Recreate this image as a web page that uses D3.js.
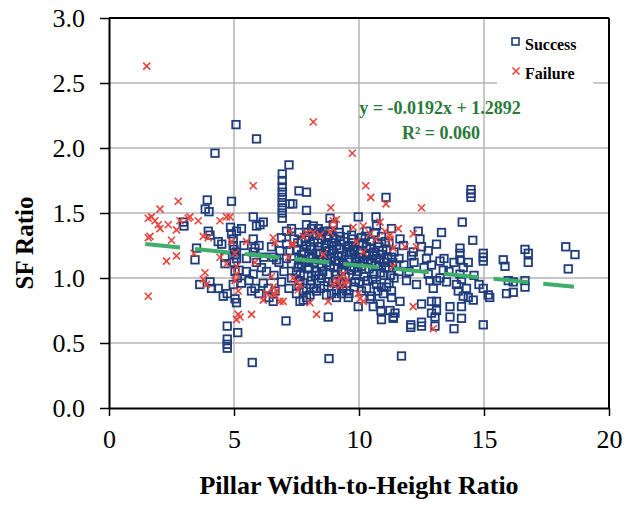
<!DOCTYPE html>
<html>
<head>
<meta charset="utf-8">
<script src="https://cdn.jsdelivr.net/npm/d3@7"></script>
<style>
  body { margin: 0; background: #fff; }
  svg text { font-family: 'Liberation Serif', 'Times New Roman', Times, 'DejaVu Serif', serif; }
</style>
</head>
<body>
<div id="chart"></div>
<script>
// tick values
var xTicks = [0, 5, 10, 15, 20];
var yTicks = [0, 0.5, 1.0, 1.5, 2.0, 2.5, 3.0];

// linear fit shown on the chart
var fitSlope = -0.0192, fitIntercept = 1.2892;
var fitRange = [1.45, 18.6];

// Success pillars [w/h, SF ratio]
var successPts = [
  [5.08,2.18],[5.9,2.07],[4.24,1.96],[7.2,1.87],
  [6.93,1.80],[6.93,1.75],[6.93,1.70],[6.93,1.66],[6.93,1.62],[6.93,1.58],[6.93,1.54],[6.93,1.50],[6.93,1.46],
  [7.6,1.67],[7.9,1.66],[7.24,1.57],[7.35,1.57],[7.9,1.52],[3.93,1.6],[4.9,1.59],
  [11.08,1.62],[14.48,1.68],[14.48,1.65],[14.48,1.62],[3.85,1.53],[4.0,1.51],
  [9.97,1.47],[10.68,1.47],[14.13,1.43],[10.7,1.40],[11.3,1.38],[14.55,1.29],
  [18.27,1.24],[18.64,1.18],[18.37,1.07],[16.64,1.22],[16.77,1.19],[16.77,1.12],
  [15.77,1.14],[15.84,1.09],[14.97,1.19],[14.97,1.16],[14.97,1.13],
  [15.97,0.98],[16.17,0.97],[16.64,0.98],[16.64,0.93],[15.9,0.88],[16.17,0.89],
  [14.97,0.64],[14.97,0.92],[15.17,0.87],[15.23,0.85],
  [4.73,0.63],[4.73,0.53],[4.73,0.49],[4.73,0.46],[5.15,0.58],[5.73,0.35],[8.8,0.38],[11.7,0.40],
  [7.08,0.67],[8.77,0.70],[9.97,0.78],[10.9,0.68],[11.37,0.70],[11.64,0.82],
  [12.07,0.64],[12.07,0.62],[12.5,0.66],[12.5,0.63],[13.04,0.63],[13.8,0.61],
  [13.64,0.78],[13.64,0.70],[14.1,0.78],[14.1,0.69],[12.9,0.82],[12.9,0.73],[12.5,0.80],[10.88,0.75],
  [2.97,1.43],[3.0,1.40],[3.44,1.14],[3.5,1.23],
  [3.63,0.95],[4.04,0.97],[4.1,0.92],[4.37,0.92],[4.57,0.86],[4.73,0.88],[5.04,0.84],[5.1,0.81],
  [3.97,1.36],[4.04,1.33],[4.37,1.28],[4.51,1.26],[4.64,1.16],[4.64,1.11],
  [4.86,1.39],[4.9,1.34],[4.97,1.30],[5.1,1.36],[5.3,1.38],
  [5.1,1.20],[5.1,1.15],[5.13,1.0],[4.97,0.95],[4.97,1.25],[5.04,1.18],[5.04,1.05],
  [5.77,1.47],[5.9,1.40],[6.04,1.41],[6.17,1.43],
  [5.77,1.30],[5.84,1.23],[5.77,1.20],[5.9,1.12],
  [5.5,1.05],[5.77,1.03],[5.7,0.90],[5.84,0.92],
  [6.1,1.08],[6.17,0.96],[6.37,0.92],[6.57,0.82],[6.64,0.90],
  [6.57,1.16],[6.7,1.14],[6.84,1.21],[6.9,1.31],
  [7.1,1.26],[7.1,1.36],[7.3,1.38],[7.24,1.21],
  [7.3,1.11],[7.57,1.08],[7.64,0.98],[7.64,0.82],[7.77,0.90],
  [7.9,1.41],[7.97,1.35],[8.17,1.40],[8.37,1.38],[8.44,1.35],
  [8.84,1.46],[8.97,1.41],[8.84,1.36],
  [11.3,0.85],[11.3,0.90],[11.1,0.93],[10.97,0.88],
  [11.64,1.30],[11.77,1.25],[12.1,1.17],[12.17,1.20],[12.44,1.30],[12.5,1.24],
  [12.37,1.36],[13.3,1.35],[13.1,1.26],[12.77,1.21],[13.24,1.13],[13.37,1.06],
  [12.77,1.03],[12.84,0.98],[12.97,0.92],[13.24,1.00],[13.5,0.97],
  [14.04,1.23],[14.04,1.19],[14.04,1.14],[14.17,1.08],[14.37,1.12],
  [14.04,1.03],[14.1,0.99],[13.97,0.90],[14.17,0.86],[14.37,0.85],[14.57,0.83],
  [13.04,0.70],[11.24,0.75],[11.44,0.73],[11.37,0.69],
  [10.44,0.84],[10.57,0.78],[10.84,0.80],[9.57,0.85],[9.5,0.90],[9.3,0.88],[9.1,0.85],
  [8.04,0.87],[7.77,0.83],[13.1,0.82],[13.1,0.75],
  [7.4,1.30],[7.5,1.22],[7.5,1.05],[7.6,1.15],[7.6,0.95],[7.7,1.28],[7.7,1.10],[7.8,1.20],[7.8,1.02],
  [7.9,1.25],[7.9,0.92],[8.0,1.17],[8.0,1.08],[8.0,1.32],[8.1,1.22],[8.1,0.98],[8.2,1.12],[8.2,1.28],
  [8.3,1.05],[8.3,1.19],[8.3,0.90],[8.4,1.24],[8.4,1.14],[8.5,1.00],[8.5,1.30],[8.5,1.09],[8.6,1.18],
  [8.6,0.94],[8.7,1.26],[8.7,1.12],[8.8,1.03],[8.8,1.21],[8.9,1.15],[8.9,0.88],[9.0,1.30],[9.0,1.08],
  [9.0,1.19],[9.1,1.25],[9.1,0.99],[9.2,1.13],[9.2,1.22],[9.3,1.05],[9.3,1.17],[9.4,1.28],[9.4,1.10],
  [9.5,1.20],[9.5,0.96],[9.6,1.14],[9.6,1.25],[9.7,1.06],[9.7,1.18],[9.8,0.93],[9.8,1.22],[9.9,1.12],
  [9.9,1.02],[10.0,1.26],[10.0,1.16],[10.0,0.97],[10.1,1.09],[10.1,1.21],[10.2,1.13],[10.2,1.01],
  [10.3,1.24],[10.3,0.92],[10.4,1.17],[10.4,1.07],[10.5,1.28],[10.5,1.12],[10.6,1.03],[10.6,1.20],
  [10.7,1.15],[10.7,0.95],[10.8,1.09],[10.8,1.24],[10.9,1.18],[11.0,1.12],[11.0,1.02],[11.1,1.22],
  [11.2,1.08],[11.3,1.16],[11.4,1.00],[11.5,1.10],
  [8.1,1.38],[8.6,1.36],[9.2,1.35],[9.7,1.33],[10.3,1.36],[10.9,1.32],[7.6,1.35],[8.8,1.33],[9.5,1.37],[10.1,1.31],
  [8.2,0.92],[8.7,0.87],[9.1,0.90],[9.6,0.88],[10.1,0.90],[10.5,0.86],[10.9,0.93],[11.2,0.96],[7.5,0.88],[7.9,0.85],
  [7.7,1.18],[8.4,1.02],[8.9,1.27],[9.3,0.97],[9.8,1.08],[10.4,1.19],[10.8,1.14],[11.2,1.27],[11.4,1.20],
  [11.6,1.15],[11.6,1.05],[11.8,1.10],[11.9,0.98],[12.0,1.05],[12.2,1.12],[12.3,0.95],[12.6,1.08],
  [12.7,1.15],[12.9,1.10],[13.1,0.98],[13.4,1.15],[13.6,1.05],[13.8,1.12],[13.9,0.95],[14.3,0.92],
  [14.6,1.02],[14.8,0.95],
  [5.0,1.22],[5.0,1.12],[5.2,1.06],[5.3,0.96],[5.4,1.25],[5.5,1.15],[5.6,0.98],[6.0,1.25],[6.2,1.16],
  [6.3,1.05],[6.5,1.24],[6.6,1.02],[6.8,1.12],[6.9,0.97],[7.0,1.05],[7.1,1.15],[7.2,0.92],[7.3,1.00],
  [6.0,0.88],[6.4,0.85],
  // extra marks in the dense core
  [7.55,1.27],[7.65,1.03],[7.75,1.14],[7.85,1.31],[7.95,1.07],[8.05,1.24],[8.15,1.15],[8.25,1.02],
  [8.35,1.27],[8.45,1.19],[8.55,1.05],[8.65,1.23],[8.75,0.97],[8.85,1.10],[8.95,1.22],[9.05,1.03],
  [9.15,1.17],[9.25,1.29],[9.35,1.12],[9.45,1.01],[9.55,1.24],[9.65,1.09],[9.75,1.27],[9.85,1.15],
  [9.95,1.05],[10.05,1.19],[10.15,1.27],[10.25,1.07],[10.35,1.14],[10.45,1.23],[10.55,0.99],[10.65,1.10],
  [10.75,1.27],[10.85,1.04],[10.95,1.21],[11.05,1.08],[11.15,1.15],[11.25,1.02],[8.05,0.95],[8.45,0.92],
  [8.95,0.97],[9.35,0.92],[9.85,0.97],[10.35,0.98],[10.75,0.90],[8.25,1.34],[8.75,1.31],[9.25,1.32],
  [9.75,1.30],[10.25,1.32],[10.65,1.35],[11.05,1.28],[7.85,1.12],[8.55,1.14],[9.15,1.08],[9.65,1.20],
  [10.15,1.12],[10.55,1.17],[11.35,1.12],[9.05,1.13]
];

// Failed pillars [w/h, SF ratio]
var failurePts = [
  [1.51,2.63],[8.17,2.20],[9.73,1.96],[5.77,1.71],[10.27,1.71],[10.47,1.62],[11.08,1.57],
  [12.5,1.54],[8.87,1.54],[2.77,1.59],[2.04,1.53],
  [1.57,1.46],[1.7,1.47],[1.84,1.44],[1.97,1.41],[2.04,1.38],[1.64,1.32],[1.57,1.31],
  [2.37,1.41],[2.5,1.29],[2.7,1.37],[2.3,1.13],[2.7,1.17],
  [2.84,1.44],[3.17,1.46],[3.57,1.44],[3.24,1.47],[1.57,0.86],[3.4,1.19],
  [3.77,1.32],[3.97,1.31],[3.84,1.04],[3.9,0.95],[3.77,0.99],
  [4.84,1.47],[4.9,1.28],[5.04,1.19],[5.1,1.09],[5.1,1.03],[5.04,0.98],[5.17,0.90],
  [5.17,0.72],[5.1,0.68],[5.24,0.70],[5.7,0.72],[4.44,1.16],[4.7,1.11],[5.5,1.28],[5.84,1.12],
  [6.17,0.83],[6.3,0.88],[6.57,0.88],[6.64,0.87],[6.84,0.82],[6.97,0.82],[6.7,0.90],
  [6.57,1.31],[6.64,1.27],[7.3,1.26],[7.17,1.16],
  [7.37,1.00],[7.5,0.97],[7.64,0.95],[7.57,0.91],
  [7.9,1.35],[8.17,1.35],[8.44,1.33],[8.84,1.35],[8.97,1.38],[9.1,1.45],[8.97,1.44],
  [8.3,0.72],[8.04,0.81],[8.77,0.82],
  [8.97,0.95],[9.1,0.98],[9.24,1.00],[9.37,1.03],[9.44,0.95],[9.5,0.98],[9.24,0.94],[8.57,1.18],
  [9.77,1.39],[10.17,1.40],[10.44,1.34],[9.9,1.28],[10.17,1.20],
  [10.04,0.84],[10.17,0.82],[9.97,0.88],
  [10.84,1.43],[11.04,1.36],[11.24,1.33],[11.57,1.38],[11.37,1.23],
  [11.37,1.09],[12.17,0.78],[12.17,1.34],[12.3,1.24],[11.84,1.24],[12.97,0.61],
  [11.24,1.30],[10.68,1.30],[7.24,1.36],[7.37,1.26],[7.77,1.32],[6.57,0.93],[6.5,1.01],
  [4.44,1.44],[4.7,1.47]
];

var W = 625, H = 505;
var margin = {top: 18, right: 16, bottom: 97, left: 109},
    width = W - margin.left - margin.right,
    height = H - margin.top - margin.bottom;

var serif = "'Liberation Serif', 'Times New Roman', Times, 'DejaVu Serif', serif";

var svg = d3.select('#chart')
  .append('svg')
    .attr('width', W)
    .attr('height', H)
    .attr('font-family', serif)
  .append('g')
    .attr('transform', 'translate(' + margin.left + ',' + margin.top + ')');

var x = d3.scaleLinear().domain([0, 20]).range([0, width]);
var y = d3.scaleLinear().domain([0, 3]).range([height, 0]);

// grid
svg.append('g').selectAll('line')
  .data(xTicks.slice(1, -1)).enter()
  .append('line')
    .attr('x1', d => x(d)).attr('x2', d => x(d))
    .attr('y1', 0).attr('y2', height)
    .attr('stroke', '#b4b4b4').attr('stroke-width', 1.5);
svg.append('g').selectAll('line')
  .data(yTicks.slice(1, -1)).enter()
  .append('line')
    .attr('x1', 0).attr('x2', width)
    .attr('y1', d => y(d)).attr('y2', d => y(d))
    .attr('stroke', '#b4b4b4').attr('stroke-width', 1.5);

// axes
var xAxis = svg.append('g')
  .attr('transform', 'translate(0,' + height + ')')
  .call(d3.axisBottom(x).tickValues(xTicks).tickSize(8).tickSizeOuter(0).tickPadding(14));
var yAxis = svg.append('g')
  .call(d3.axisLeft(y).tickValues(yTicks).tickFormat(d3.format('.1f')).tickSize(9).tickSizeOuter(0).tickPadding(15));
[xAxis, yAxis].forEach(function(a) {
  a.attr('font-family', serif).attr('font-size', 26);
  a.select('.domain').attr('stroke', '#000').attr('stroke-width', 2);
  a.selectAll('.tick line').attr('stroke', '#000').attr('stroke-width', 1.5);
  a.selectAll('.tick text').style('font-family', serif).attr('fill', '#000');
});

// frame top / right
svg.append('line').attr('x1', 0).attr('x2', width).attr('y1', 0).attr('y2', 0)
  .attr('stroke', '#000').attr('stroke-width', 2);
svg.append('line').attr('x1', width).attr('x2', width).attr('y1', 0).attr('y2', height)
  .attr('stroke', '#000').attr('stroke-width', 2);

// success squares
var s = 7.5;
svg.append('g').selectAll('rect')
  .data(successPts).enter()
  .append('rect')
    .attr('x', d => x(d[0]) - s / 2)
    .attr('y', d => y(d[1]) - s / 2)
    .attr('width', s).attr('height', s)
    .attr('fill', 'none')
    .attr('stroke', '#1f3c7c')
    .attr('stroke-width', 1.8);

// failure crosses
var c = 3.5;
svg.append('g').selectAll('path')
  .data(failurePts).enter()
  .append('path')
    .attr('transform', d => 'translate(' + x(d[0]) + ',' + y(d[1]) + ')')
    .attr('d', 'M' + -c + ',' + -c + 'L' + c + ',' + c + 'M' + -c + ',' + c + 'L' + c + ',' + -c)
    .attr('stroke', '#e8443c')
    .attr('stroke-width', 1.6);

// trend line
svg.append('line')
  .attr('x1', x(fitRange[0])).attr('y1', y(fitIntercept + fitSlope * fitRange[0]))
  .attr('x2', x(fitRange[1])).attr('y2', y(fitIntercept + fitSlope * fitRange[1]))
  .attr('stroke', '#3fae6a')
  .attr('stroke-width', 4)
  .attr('stroke-dasharray', '35,15');

// fit label
svg.append('text')
  .attr('x', 331).attr('y', 96)
  .attr('text-anchor', 'middle')
  .style('font-family', serif)
  .attr('font-weight', 'bold').attr('font-size', 18)
  .attr('fill', '#2a7a3a')
  .text('y = -0.0192x + 1.2892');
svg.append('text')
  .attr('x', 332).attr('y', 121)
  .attr('text-anchor', 'middle')
  .style('font-family', serif)
  .attr('font-weight', 'bold').attr('font-size', 18)
  .attr('fill', '#2a7a3a')
  .text('R² = 0.060');

// legend
var lg = svg.append('g').attr('transform', 'translate(388,2)');
lg.append('rect').attr('x', 0).attr('y', 0).attr('width', 96).attr('height', 64).attr('fill', '#fff');
lg.append('rect').attr('x', 15).attr('y', 18).attr('width', 7).attr('height', 7)
  .attr('fill', 'none').attr('stroke', '#1f3c7c').attr('stroke-width', 1.6);
lg.append('path')
  .attr('d', 'M15.5,47.5L22.5,54.5M15.5,54.5L22.5,47.5')
  .attr('stroke', '#e8443c').attr('stroke-width', 1.6);
lg.append('text').attr('x', 28).attr('y', 30).style('font-family', serif)
  .attr('font-weight', 'bold').attr('font-size', 16).text('Success');
lg.append('text').attr('x', 28).attr('y', 59).style('font-family', serif)
  .attr('font-weight', 'bold').attr('font-size', 16).text('Failure');

// axis titles
svg.append('text')
  .attr('x', width / 2).attr('y', height + 86)
  .attr('text-anchor', 'middle')
  .style('font-family', serif)
  .attr('font-weight', 'bold').attr('font-size', 26)
  .text('Pillar Width-to-Height Ratio');
svg.append('text')
  .attr('transform', 'rotate(-90)')
  .attr('x', -225).attr('y', -76)
  .attr('text-anchor', 'middle')
  .style('font-family', serif)
  .attr('font-weight', 'bold').attr('font-size', 25)
  .text('SF Ratio');
</script>
</body>
</html>
